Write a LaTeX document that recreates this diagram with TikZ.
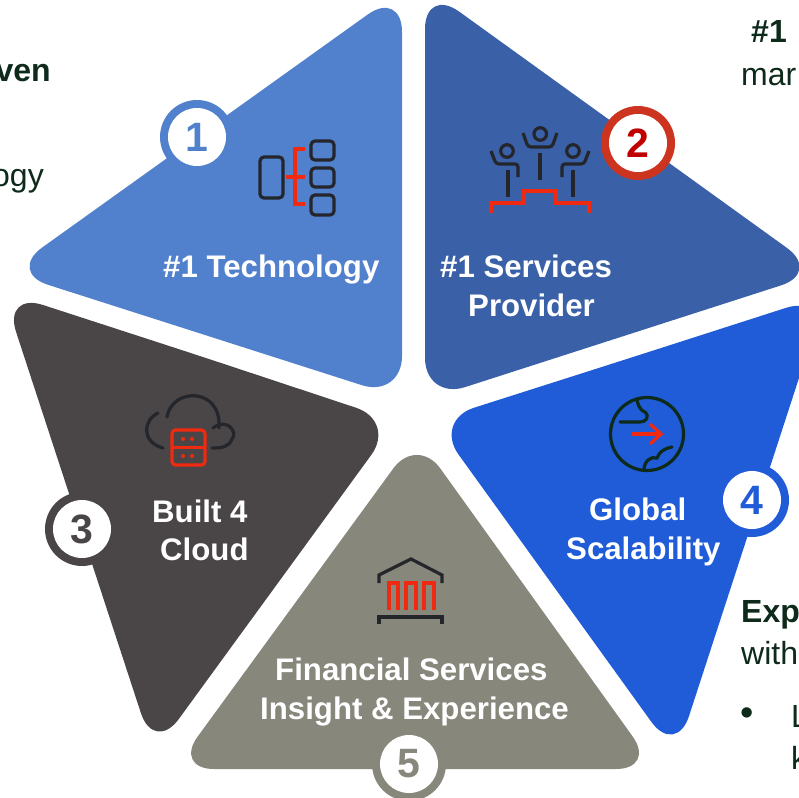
\documentclass[tikz,border=0pt]{standalone}
\usepackage{fontspec}
\setmainfont{Liberation Sans}
\definecolor{cOne}{HTML}{5181CD}
\definecolor{cTwo}{HTML}{3A60A8}
\definecolor{cThree}{HTML}{4A4546}
\definecolor{cFour}{HTML}{205CD8}
\definecolor{cFive}{HTML}{87877C}
\definecolor{cNum}{HTML}{C00000}
\definecolor{cRing}{HTML}{CC3420}
\definecolor{cInk}{HTML}{0D2A1A}
\definecolor{cIcon}{HTML}{24262C}
\definecolor{cRed}{HTML}{F02A10}
\tikzset{
  x=1pt,y=-1pt,
  label/.style={anchor=base west,inner sep=0pt,text=white,font=\fontsize{31.2}{31.2}\selectfont\bfseries},
  body/.style={anchor=base west,inner sep=0pt,text=cInk,font=\fontsize{32}{32}\selectfont},
  bodybold/.style={body,font=\fontsize{32}{32}\selectfont\bfseries},
  ringdot/.style={circle,minimum size=74pt,inner sep=0pt},
  numdot/.style={circle,fill=white,minimum size=58pt,inner sep=0pt,font=\fontsize{41}{41}\selectfont\bfseries},
  dark/.style={draw=cIcon,line width=3.2pt,line join=miter},
  inkline/.style={draw=cInk,line width=3.2pt},
  redline/.style={draw=cRed,line width=3.2pt},
}
\begin{document}
\begin{tikzpicture}
\useasboundingbox (0,0) rectangle (799,797);
\clip (0,0) rectangle (799,797);
\fill[white] (0,0) rectangle (799,797);

% clipped body text
\node[bodybold,anchor=base east] (tven) at (51,82) {ven};
\node[body,anchor=base east] (togy) at (44,186) {ogy};
\node[bodybold] (tone) at (751,43) {\#1};
\node[body] (tmar) at (741,86) {mar};
\node[bodybold] (texp) at (741,622) {Exp};
\node[body] (twith) at (741,664) {with};
\node[anchor=center,inner sep=0pt,text=cInk,font=\fontsize{38}{38}\selectfont] (tbul) at (747,717) {•};
\node[body] (tl) at (791,727) {L};
\node[body] (tk) at (791,769) {k};

% petals
\fill[cOne,rounded corners=42pt] (402,200) -- (402,398) -- (8,272) -- (402,-10) -- cycle;
\fill[cTwo,rounded corners=42pt] (425,200) -- (425,400) -- (821,272.5) -- (425,-13) -- cycle;
\fill[cThree,rounded corners=42pt] (200,356) -- (396,421) -- (154,753) -- (3,292) -- cycle;
\fill[cFour,rounded corners=42pt] (630,358) -- (434,420.5) -- (676,756) -- (826,295) -- cycle;
\fill[cFive,rounded corners=40pt] (415,769) -- (174,769) -- (417,436) -- (656,769) -- cycle;

% badges
\node[ringdot,fill=cOne] (r1) at (197,137) {};
\node[numdot,text=cOne] (n1) at (197,137) {1};
\node[ringdot,fill=cRing] (r2) at (638,143) {};
\node[numdot,text=cNum] (n2) at (638,143) {2};
\node[ringdot,fill=cThree] (r3) at (82,529) {};
\node[numdot,text=cThree] (n3) at (82,529) {3};
\node[ringdot,fill=cFour] (r4) at (752,500) {};
\node[numdot,text=cFour] (n4) at (752,500) {4};
\node[ringdot,fill=cFive] (r5) at (409,764) {};
\node[numdot,text=cFive] (n5) at (409,764) {5};

% labels
\node[label] (l1) at (163,277) {\#1 Technology};
\node[label] (l2a) at (440,277) {\#1 Services};
\node[label] (l2b) at (468,316) {Provider};
\node[label] (l3a) at (152,522) {Built 4};
\node[label] (l3b) at (160,560) {Cloud};
\node[label] (l4a) at (589,520) {Global};
\node[label] (l4b) at (566,559) {Scalability};
\node[label] (l5a) at (275,680) {Financial Services};
\node[label] (l5b) at (260,719) {Insight \& Experience};

% icon 1: hierarchy
\draw[dark,rounded corners=4pt] (260,157) -- (260,198) -- (283,198) -- (283,157) -- cycle;
\foreach \t/\b in {141/160,168/187,195/215}{
  \draw[dark,rounded corners=4pt] (311,\t) -- (311,\b) -- (334,\b) -- (334,\t) -- cycle;
}
\draw[redline] (305,149) -- (295,149) -- (295,204) -- (305,204);
\draw[redline] (286,177) -- (305,177);

% icon 2: podium
\draw[dark] (540.3,134) circle (6.3);
\draw[dark] (507,151) circle (6.3);
\draw[dark] (573,151) circle (6.3);
\draw[dark,rounded corners=3pt] (523,133) -- (528,147) -- (552,147) -- (557,133);
\draw[dark] (540,153) -- (540,180);
\draw[dark,rounded corners=3pt] (491,151) -- (496,164) -- (518,164) -- (518,177);
\draw[dark] (508,170) -- (508,197);
\draw[dark,rounded corners=3pt] (589,151) -- (584,164) -- (562,164) -- (562,177);
\draw[dark] (573,170) -- (573,197);
\draw[redline] (491,213) -- (491,203) -- (524,203) -- (524,191) -- (556,191) -- (556,203) -- (589,203) -- (589,213);

% icon 3: cloud and server
\draw[dark,line cap=round] (158,413) .. controls (143,420) and (141,442) .. (163,448);
\draw[dark,line cap=round] (167,417) .. controls (172,387) and (222,387) .. (219,428);
\draw[dark,line cap=round] (213,428) .. controls (228,417) and (238,433) .. (232,439) .. controls (229,447) and (222,448) .. (212,448);
\draw[redline,rounded corners=3.5pt] (172,430) rectangle (205,465);
\draw[redline] (172,447.5) -- (205,447.5);
\foreach \p in {(183,439),(192,439),(183,456),(192,456)}{\fill[cRed] \p circle (2);}

% icon 4: globe
\draw[inkline] (647,434) circle (36.5);
\draw[inkline,line cap=round] (637,400) .. controls (639,410) and (643,411) .. (645,412) .. controls (650,417) and (646,422) .. (640,422) -- (620,422);
\draw[inkline,line cap=round] (672,447) .. controls (665,448) and (659,452) .. (657,458) .. controls (651,456) and (644,461) .. (644,470);
\draw[redline] (632,434) -- (661,434);
\draw[redline] (650,424) -- (661,434) -- (650,444);

% icon 5: bank
\draw[dark] (379,583) -- (379,575) -- (411,559) -- (442,575) -- (442,583);
\draw[dark] (379,624) -- (379,617) -- (442,617) -- (442,624);
\draw[redline] (389,610) -- (389,583) -- (398,583) -- (398,610);
\draw[redline] (406,610) -- (406,583) -- (416,583) -- (416,610);
\draw[redline] (424,610) -- (424,583) -- (434,583) -- (434,610);
\end{tikzpicture}
\end{document}
